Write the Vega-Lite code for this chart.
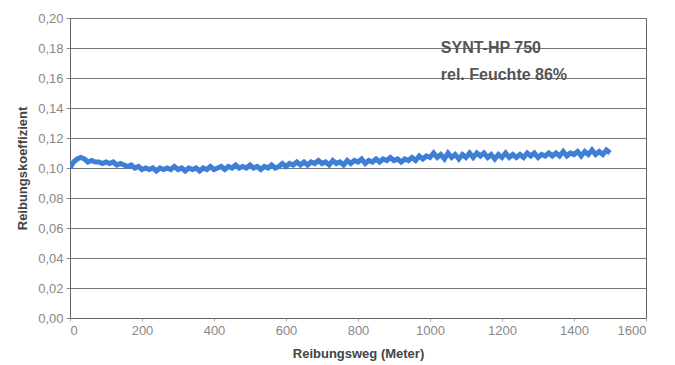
{
  "$schema": "https://vega.github.io/schema/vega-lite/v6.json",
  "width": 576,
  "height": 300,
  "padding": {"left": 16, "top": 12, "right": 5, "bottom": 5},
  "background": "white",
  "config": {
    "view": {"stroke": "#666", "strokeWidth": 1},
    "font": "Liberation Sans"
  },
  "datasets": {
    "series": [
      {"m":0,"k":0.100},{"m":10,"k":0.104},{"m":20,"k":0.106},{"m":30,"k":0.107},{"m":40,"k":0.106},{"m":50,"k":0.104},{"m":60,"k":0.105},{"m":70,"k":0.104},{"m":80,"k":0.104},{"m":90,"k":0.103},
      {"m":100,"k":0.104},{"m":110,"k":0.103},{"m":120,"k":0.104},{"m":130,"k":0.102},{"m":140,"k":0.103},{"m":150,"k":0.102},{"m":160,"k":0.101},{"m":170,"k":0.102},{"m":180,"k":0.100},{"m":190,"k":0.101},
      {"m":200,"k":0.099},{"m":210,"k":0.100},{"m":220,"k":0.099},{"m":230,"k":0.100},{"m":240,"k":0.098},{"m":250,"k":0.100},{"m":260,"k":0.099},{"m":270,"k":0.100},{"m":280,"k":0.099},{"m":290,"k":0.101},
      {"m":300,"k":0.099},{"m":310,"k":0.100},{"m":320,"k":0.098},{"m":330,"k":0.100},{"m":340,"k":0.099},{"m":350,"k":0.100},{"m":360,"k":0.098},{"m":370,"k":0.100},{"m":380,"k":0.099},{"m":390,"k":0.101},
      {"m":400,"k":0.099},{"m":410,"k":0.100},{"m":420,"k":0.101},{"m":430,"k":0.099},{"m":440,"k":0.101},{"m":450,"k":0.100},{"m":460,"k":0.102},{"m":470,"k":0.100},{"m":480,"k":0.101},{"m":490,"k":0.100},
      {"m":500,"k":0.102},{"m":510,"k":0.100},{"m":520,"k":0.101},{"m":530,"k":0.099},{"m":540,"k":0.101},{"m":550,"k":0.100},{"m":560,"k":0.102},{"m":570,"k":0.100},{"m":580,"k":0.101},{"m":590,"k":0.103},
      {"m":600,"k":0.101},{"m":610,"k":0.103},{"m":620,"k":0.102},{"m":630,"k":0.104},{"m":640,"k":0.102},{"m":650,"k":0.104},{"m":660,"k":0.102},{"m":670,"k":0.104},{"m":680,"k":0.103},{"m":690,"k":0.105},
      {"m":700,"k":0.103},{"m":710,"k":0.104},{"m":720,"k":0.102},{"m":730,"k":0.105},{"m":740,"k":0.103},{"m":750,"k":0.104},{"m":760,"k":0.102},{"m":770,"k":0.105},{"m":780,"k":0.103},{"m":790,"k":0.105},
      {"m":800,"k":0.104},{"m":810,"k":0.106},{"m":820,"k":0.103},{"m":830,"k":0.105},{"m":840,"k":0.104},{"m":850,"k":0.106},{"m":860,"k":0.104},{"m":870,"k":0.106},{"m":880,"k":0.105},{"m":890,"k":0.107},
      {"m":900,"k":0.105},{"m":910,"k":0.106},{"m":920,"k":0.104},{"m":930,"k":0.106},{"m":940,"k":0.105},{"m":950,"k":0.107},{"m":960,"k":0.105},{"m":970,"k":0.108},{"m":980,"k":0.106},{"m":990,"k":0.108},
      {"m":1000,"k":0.107},{"m":1010,"k":0.110},{"m":1020,"k":0.107},{"m":1030,"k":0.109},{"m":1040,"k":0.106},{"m":1050,"k":0.110},{"m":1060,"k":0.107},{"m":1070,"k":0.109},{"m":1080,"k":0.106},{"m":1090,"k":0.109},
      {"m":1100,"k":0.107},{"m":1110,"k":0.110},{"m":1120,"k":0.107},{"m":1130,"k":0.110},{"m":1140,"k":0.108},{"m":1150,"k":0.110},{"m":1160,"k":0.107},{"m":1170,"k":0.109},{"m":1180,"k":0.106},{"m":1190,"k":0.109},
      {"m":1200,"k":0.107},{"m":1210,"k":0.110},{"m":1220,"k":0.107},{"m":1230,"k":0.109},{"m":1240,"k":0.107},{"m":1250,"k":0.109},{"m":1260,"k":0.107},{"m":1270,"k":0.110},{"m":1280,"k":0.108},{"m":1290,"k":0.110},
      {"m":1300,"k":0.107},{"m":1310,"k":0.109},{"m":1320,"k":0.108},{"m":1330,"k":0.110},{"m":1340,"k":0.108},{"m":1350,"k":0.110},{"m":1360,"k":0.108},{"m":1370,"k":0.111},{"m":1380,"k":0.108},{"m":1390,"k":0.110},
      {"m":1400,"k":0.109},{"m":1410,"k":0.111},{"m":1420,"k":0.108},{"m":1430,"k":0.111},{"m":1440,"k":0.109},{"m":1450,"k":0.112},{"m":1460,"k":0.109},{"m":1470,"k":0.111},{"m":1480,"k":0.109},{"m":1490,"k":0.112},
      {"m":1500,"k":0.110}
    ],
    "labels": [
      {"m": 1030, "k": 0.180, "t": "SYNT-HP 750"},
      {"m": 1030, "k": 0.162, "t": "rel. Feuchte 86%"}
    ]
  },
  "layer": [
    {
      "data": {"name": "series"},
      "mark": {"type": "line", "color": "#3d7fd6", "strokeWidth": 5, "strokeJoin": "miter", "clip": true},
      "encoding": {
        "x": {
          "field": "m", "type": "quantitative",
          "scale": {"domain": [0, 1600], "nice": false},
          "axis": {
            "values": [0, 200, 400, 600, 800, 1000, 1200, 1400, 1600],
            "tickCount": 20,
            "format": "d",
            "title": "Reibungsweg (Meter)",
            "titleFontWeight": "bold", "titleFontSize": 13, "titleColor": "#444",
            "titlePadding": 10,
            "labelColor": "#888", "labelFontSize": 13, "labelPadding": 3,
            "labelOverlap": false,
            "grid": false, "domainColor": "#666", "tickColor": "#aaa", "tickSize": 3
          }
        },
        "y": {
          "field": "k", "type": "quantitative",
          "scale": {"domain": [0, 0.2], "nice": false, "zero": true},
          "axis": {
            "values": [0, 0.02, 0.04, 0.06, 0.08, 0.1, 0.12, 0.14, 0.16, 0.18, 0.2],
            "tickCount": 20,
            "labelOverlap": false,
            "format": ".2f",
            "labelExpr": "replace(datum.label, '.', ',')",
            "title": "Reibungskoeffizient",
            "titleFontWeight": "bold", "titleFontSize": 13, "titleColor": "#444",
            "titlePadding": 8,
            "labelColor": "#888", "labelFontSize": 13, "labelPadding": 3,
            "grid": true, "gridColor": "#777", "gridWidth": 1,
            "domainColor": "#666", "tickColor": "#888", "tickSize": 4
          }
        }
      }
    },
    {
      "data": {"name": "labels"},
      "mark": {"type": "text", "align": "left", "baseline": "middle", "fontSize": 16, "fontWeight": "bold", "color": "#555"},
      "encoding": {
        "x": {"field": "m", "type": "quantitative"},
        "y": {"field": "k", "type": "quantitative"},
        "text": {"field": "t"}
      }
    }
  ]
}
